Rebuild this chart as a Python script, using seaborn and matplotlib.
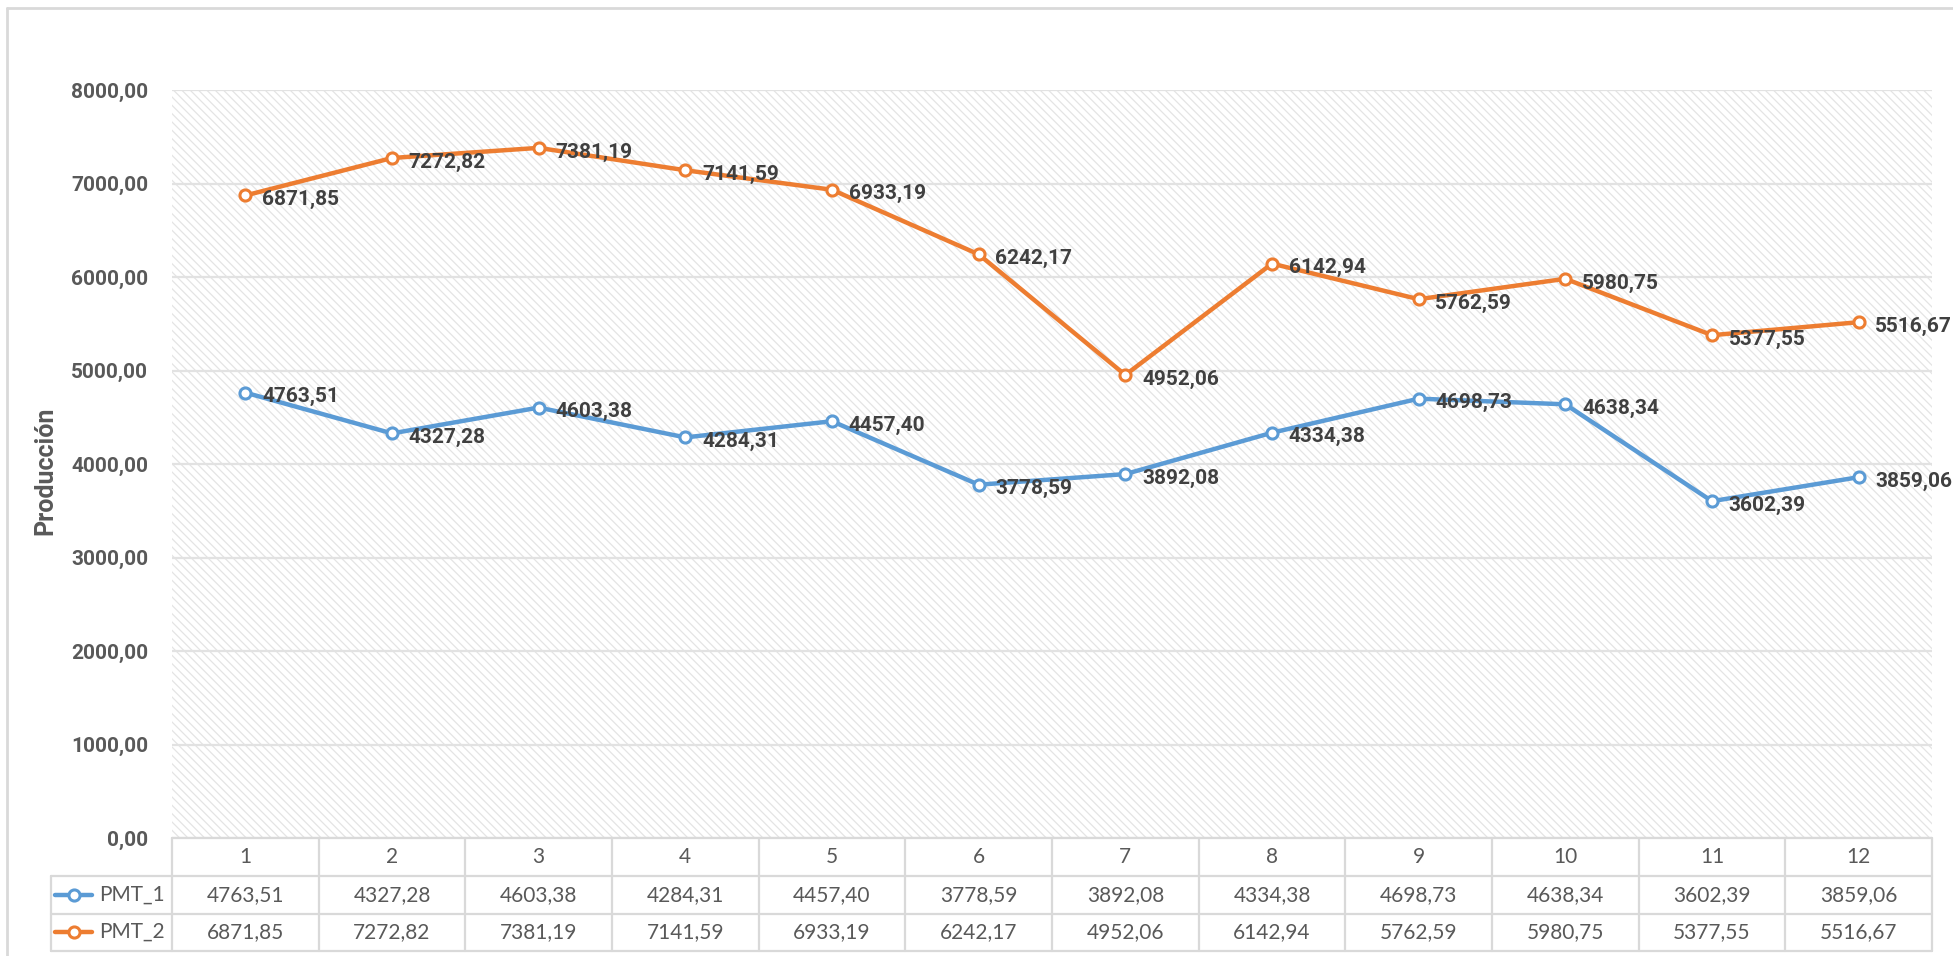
import pandas as pd
import seaborn as sns
import matplotlib.pyplot as plt
import matplotlib.transforms as mtransforms
from matplotlib.patches import Rectangle
from matplotlib.lines import Line2D

meses = [1, 2, 3, 4, 5, 6, 7, 8, 9, 10, 11, 12]
pmt_1 = [4763.51, 4327.28, 4603.38, 4284.31, 4457.40, 3778.59,
         3892.08, 4334.38, 4698.73, 4638.34, 3602.39, 3859.06]
pmt_2 = [6871.85, 7272.82, 7381.19, 7141.59, 6933.19, 6242.17,
         4952.06, 6142.94, 5762.59, 5980.75, 5377.55, 5516.67]
series = ['PMT_1', 'PMT_2']
colores = ['#5B9BD5', '#ED7D31']
y_ticks = [0, 1000, 2000, 3000, 4000, 5000, 6000, 7000, 8000]


def fmt(v):
    return f"{v:.2f}".replace('.', ',')


sns.set_style('white')
plt.rcParams['font.family'] = ['Lato', 'DejaVu Sans']
plt.rcParams['hatch.linewidth'] = 0.9
plt.rcParams['hatch.color'] = '#e4e4e4'
bold_font = ['Roboto', 'DejaVu Sans']

W, H = 1953, 956
fig = plt.figure(figsize=(W / 100, H / 100), dpi=100)
ax = fig.add_axes([172 / W, (H - 838) / H, (1932 - 172) / W, (838 - 90) / H])

# hatched plot area
ax.add_patch(Rectangle((0, 0), 1, 1, transform=ax.transAxes, facecolor='white',
                       edgecolor='#e4e4e4', hatch='\\\\\\\\', lw=0, zorder=0))

df = pd.DataFrame({'mes': meses * 2, 'valor': pmt_1 + pmt_2,
                   'serie': ['PMT_1'] * 12 + ['PMT_2'] * 12})

for s, c in zip(series, colores):
    d = df[df['serie'] == s]
    sns.lineplot(data=d, x='mes', y='valor', ax=ax, color=c, lw=3.2,
                 marker='o', markersize=8, markerfacecolor='white',
                 markeredgecolor=c, markeredgewidth=2.2, zorder=3)
    for x, v in zip(d['mes'], d['valor']):
        ax.annotate(fmt(v), (x, v), xytext=(12, -3), textcoords='offset points',
                    ha='left', va='center', fontsize=15, fontweight='bold',
                    family=bold_font, color='#404040', zorder=4,
                    annotation_clip=False)

ax.set_xlim(0.5, 12.5)
ax.set_ylim(0, 8000)
ax.set_yticks(y_ticks)
ax.set_yticklabels([fmt(v) for v in y_ticks], fontweight='bold', family=bold_font)
ax.tick_params(axis='y', length=0, pad=17, labelsize=15, labelcolor='#595959')
ax.tick_params(axis='x', length=0, labelbottom=False)
ax.set_xlabel('')
ax.set_ylabel('')
ax.set_axisbelow(True)
ax.yaxis.grid(True, color='#e2e2e2', lw=1.6)
ax.xaxis.grid(False)
for sp in ax.spines.values():
    sp.set_visible(False)

fig.text(45 / W, 1 - 471 / H, 'Producción', rotation=90, ha='center', va='center',
         fontsize=18, fontweight='bold', family=bold_font, color='#595959')

# data table under the plot
px = mtransforms.Affine2D().scale(1 / W, 1 / H) + fig.transFigure
bl = mtransforms.blended_transform_factory(ax.transData, px)
line_c = '#d9d9d9'
rows_y = [H - 838, H - 876, H - 914, H - 951]

fig.add_artist(Line2D([0.5, 12.5], [rows_y[0]] * 2, transform=bl, color=line_c, lw=1.6))
for yy in rows_y[1:]:
    fig.add_artist(Line2D([51, 1932], [yy] * 2, transform=px, color=line_c, lw=1.6))
for xx in [m - 0.5 for m in meses] + [12.5]:
    fig.add_artist(Line2D([xx, xx], [rows_y[0], rows_y[3]], transform=bl, color=line_c, lw=1.6))
fig.add_artist(Line2D([51, 51], [rows_y[1], rows_y[3]], transform=px, color=line_c, lw=1.6))

for m in meses:
    fig.text(m, H - 857, str(m), transform=bl, ha='center', va='center',
             fontsize=15, color='#595959')
for vals, yc in zip([pmt_1, pmt_2], [H - 895, H - 932]):
    for m, v in zip(meses, vals):
        fig.text(m, yc, fmt(v), transform=bl, ha='center', va='center',
                 fontsize=15, color='#595959')

for s, c, yc in zip(series, colores, [H - 895, H - 932]):
    fig.add_artist(Line2D([55, 92], [yc, yc], transform=px, color=c, lw=3.2))
    fig.add_artist(Line2D([74], [yc], transform=px, color=c, marker='o', markersize=8,
                          markerfacecolor='white', markeredgewidth=2.2))
    fig.text(99, yc, s, transform=px, ha='left', va='center', fontsize=15, color='#595959')

# chart frame
fig.add_artist(Line2D([7, W], [H - 8, H - 8], transform=px, color=line_c, lw=2))
fig.add_artist(Line2D([7, 7], [0, H - 8], transform=px, color=line_c, lw=2))

plt.savefig('out.png', dpi=100)
